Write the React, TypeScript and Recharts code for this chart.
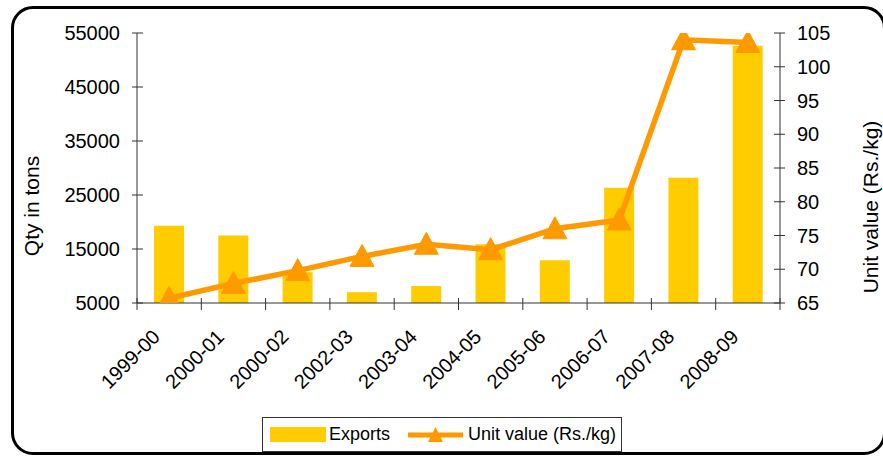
import React from 'react';
import { ComposedChart, Bar, Line, XAxis, YAxis, Legend } from 'recharts';

const categories = ['1999-00', '2000-01', '2000-02', '2002-03', '2003-04', '2004-05', '2005-06', '2006-07', '2007-08', '2008-09'];
const exportsQty = [19300, 17500, 10700, 7000, 8150, 15900, 12900, 26350, 28200, 52650];
const unitValue = [65.7, 67.9, 69.8, 71.9, 73.7, 72.9, 76.0, 77.3, 104.0, 103.6];
const leftTicks = [5000, 15000, 25000, 35000, 45000, 55000];
const rightTicks = [65, 70, 75, 80, 85, 90, 95, 100, 105];

const data = categories.map((c, i) => ({ year: c, exports: exportsQty[i], unit: unitValue[i] }));

const FONT = '"Liberation Sans", Arial, sans-serif';
const BAR = '#FFCC00';
const LINE = '#FF9900';
const AXIS = '#333333';
const TICK_FS = 20;
const TITLE_FS = 21;

const XTick = (p: any) => {
  const { x, y, payload, index, visibleTicksCount } = p;
  const total = typeof p.width === 'number' ? p.width : 643;
  const bw = total / (visibleTicksCount || 10);
  const half = bw / 2;
  const bx = x - 8;
  const by = y + 35;
  return (
    <g>
      <line x1={x - half} x2={x - half} y1={y - 5} y2={y + 7} stroke={AXIS} strokeWidth={1} />
      {index === visibleTicksCount - 1 && (
        <line x1={x + half} x2={x + half} y1={y - 5} y2={y + 7} stroke={AXIS} strokeWidth={1} />
      )}
      <text x={bx} y={by} transform={`rotate(-45, ${bx}, ${by})`} textAnchor="end" fontSize={TICK_FS} fontFamily={FONT} fill="#000">
        {payload.value}
      </text>
    </g>
  );
};

const LeftTick = (p: any) => {
  const { x, y, payload } = p;
  return (
    <g>
      <line x1={x - 5} x2={x + 6} y1={y} y2={y} stroke={AXIS} strokeWidth={1} />
      <text x={x - 17} y={y} dy="0.36em" textAnchor="end" fontSize={TICK_FS} fontFamily={FONT} fill="#000">
        {payload.value}
      </text>
    </g>
  );
};

const RightTick = (p: any) => {
  const { x, y, payload } = p;
  return (
    <g>
      <line x1={x - 6} x2={x + 5} y1={y} y2={y} stroke={AXIS} strokeWidth={1} />
      <text x={x + 17} y={y} dy="0.36em" textAnchor="start" fontSize={TICK_FS} fontFamily={FONT} fill="#000">
        {payload.value}
      </text>
    </g>
  );
};

const Triangle = (p: any) => {
  const { cx, cy, index } = p;
  if (cx == null || cy == null) return <g key={`t-${index}`} />;
  return (
    <polygon
      key={`t-${index}`}
      points={`${cx},${cy - 12} ${cx + 12},${cy + 10} ${cx - 12},${cy + 10}`}
      fill={LINE}
      stroke={LINE}
      strokeWidth={1}
    />
  );
};

const LeftLabel = (p: any) => {
  const vb = p.viewBox || { x: 0, y: 33, width: 137, height: 270 };
  const x = vb.x + 31;
  const y = vb.y + vb.height / 2 + 38;
  return (
    <text x={x} y={y} transform={`rotate(-90, ${x}, ${y})`} textAnchor="middle" dominantBaseline="central" fontSize={TITLE_FS} fontFamily={FONT} fill="#000">
      Qty in tons
    </text>
  );
};

const RightLabel = (p: any) => {
  const vb = p.viewBox || { x: 780, y: 33, width: 103, height: 270 };
  const x = vb.x + 90;
  const y = vb.y + vb.height / 2 + 39;
  return (
    <text x={x} y={y} transform={`rotate(-90, ${x}, ${y})`} textAnchor="middle" dominantBaseline="central" fontSize={TITLE_FS} fontFamily={FONT} fill="#000">
      Unit value (Rs./kg)
    </text>
  );
};

const LegendBox = () => (
  <div
    style={{
      boxSizing: 'border-box',
      width: 360,
      height: 35,
      border: '1px solid #333',
      background: '#fff',
      display: 'flex',
      alignItems: 'center',
      paddingLeft: 7,
      fontFamily: FONT,
      fontSize: 18,
      color: '#000',
      whiteSpace: 'nowrap',
    }}
  >
    <div style={{ width: 56, height: 15, background: BAR }} />
    <span style={{ marginLeft: 3 }}>Exports</span>
    <svg width={55} height={20} style={{ marginLeft: 18 }}>
      <line x1={0} x2={55} y1={10} y2={10} stroke={LINE} strokeWidth={5} />
      <polygon points="27.5,2 35,17 20,17" fill={LINE} />
    </svg>
    <span style={{ marginLeft: 5 }}>Unit value (Rs./kg)</span>
  </div>
);

export default function App() {
  return (
    <div style={{ position: 'absolute', left: 0, top: 0, width: 883, height: 459, background: '#fff', overflow: 'hidden' }}>
      <div
        style={{
          position: 'absolute',
          left: 11,
          top: 6,
          width: 875,
          height: 449,
          boxSizing: 'border-box',
          border: '3px solid #000',
          borderRadius: 22,
        }}
      />
      <div style={{ position: 'absolute', left: 0, top: 0 }}>
        <ComposedChart width={883} height={459} data={data} margin={{ top: 33, right: 0, left: 0, bottom: 21 }}>
          <XAxis
            dataKey="year"
            xAxisId="x"
            height={100}
            interval={0}
            tickLine={false}
            tickSize={0}
            tickMargin={0}
            axisLine={{ stroke: AXIS, strokeWidth: 1 }}
            tick={<XTick />}
          />
          <YAxis
            yAxisId="left"
            orientation="left"
            width={137}
            domain={[5000, 55000]}
            ticks={leftTicks}
            interval={0}
            tickLine={false}
            tickSize={0}
            tickMargin={0}
            axisLine={{ stroke: AXIS, strokeWidth: 1 }}
            tick={<LeftTick />}
            allowDataOverflow
            label={<LeftLabel />}
          />
          <YAxis
            yAxisId="right"
            orientation="right"
            width={103}
            domain={[65, 105]}
            ticks={rightTicks}
            interval={0}
            tickLine={false}
            tickSize={0}
            tickMargin={0}
            axisLine={{ stroke: AXIS, strokeWidth: 1 }}
            tick={<RightTick />}
            allowDataOverflow
            label={<RightLabel />}
          />
          <Legend
            verticalAlign="bottom"
            content={<LegendBox />}
            wrapperStyle={{ top: 417, left: 262, bottom: 'auto', width: 360, height: 35 }}
          />
          <Bar
            xAxisId="x"
            yAxisId="left"
            dataKey="exports"
            name="Exports"
            fill={BAR}
            barSize={30}
            isAnimationActive={false}
          />
          <Line
            xAxisId="x"
            yAxisId="right"
            dataKey="unit"
            name="Unit value (Rs./kg)"
            stroke={LINE}
            strokeWidth={5.5}
            dot={<Triangle />}
            activeDot={false}
            isAnimationActive={false}
          />
        </ComposedChart>
      </div>
    </div>
  );
}
